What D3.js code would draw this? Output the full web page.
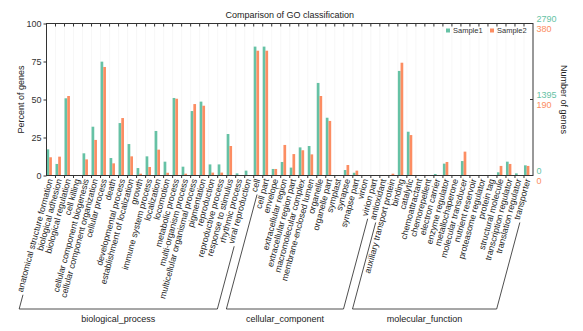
<!DOCTYPE html>
<html>
<head>
<meta charset="utf-8">
<script src="https://cdn.jsdelivr.net/npm/d3@7"></script>
<style>
  body { margin: 0; background: #fff; }
  svg { font-family: "Liberation Sans", Arial, sans-serif; }
</style>
</head>
<body>
<script>
const bpCats = ["anatomical structure formation", "biological adhesion", "biological regulation", "cell killing",
  "cellular component biogenesis", "cellular component organization", "cellular process", "death",
  "developmental process", "establishment of localization", "growth", "immune system process", "localization",
  "locomotion", "metabolic process", "multi-organism process", "multicellular organismal process", "pigmentation",
  "reproduction", "reproductive process", "response to stimulus", "rhythmic process", "viral reproduction"];
const ccCats = ["cell", "cell part", "envelope", "extracellular region", "extracellular region part",
  "macromolecular complex", "membrane-enclosed lumen", "organelle", "organelle part", "symplast", "synapse",
  "synapse part", "virion", "virion part"];
const mfCats = ["antioxidant", "auxiliary transport protein", "binding", "catalytic", "chemoattractant",
  "chemorepellent", "electron carrier", "enzyme regulator", "metallochaperone", "molecular transducer",
  "nutrient reservoir", "proteasome regulator", "protein tag", "structural molecule", "transcription regulator",
  "translation regulator", "transporter"];
const groupNames = ["biological_process", "cellular_component", "molecular_function"];

// percent of genes
const sample1 = [17.2, 7.6, 50.8, 0, 14.6, 32.1, 74.9, 11.5, 34.5, 20.7, 4.9, 12.6, 29.3, 9.1, 51.0, 5.8, 42.4, 48.6, 7.3, 7.3, 27.3, 1.4, 3.2,
  84.8, 84.8, 4.3, 8.9, 5.2, 18.5, 19.4, 60.9, 38.0, 0.3, 3.6, 1.8, 0, 0,
  0, 0.3, 68.8, 28.8, 0, 0, 1.0, 7.8, 0, 9.5, 0, 0, 0, 2.1, 9.1, 1.4, 6.7];
const sample2 = [12.0, 12.4, 52.3, 0, 10.6, 23.4, 71.4, 8.0, 37.8, 12.6, 1.2, 5.6, 17.0, 1.8, 50.5, 1.2, 47.0, 45.9, 1.9, 1.9, 19.4, 0, 0,
  82.1, 82.1, 4.3, 20.1, 14.1, 16.6, 13.9, 52.3, 35.9, 0, 6.9, 3.2, 0, 0,
  0, 1.2, 74.2, 26.6, 0, 0, 0, 8.9, 0, 15.7, 0, 0, 0, 6.3, 7.6, 0, 6.3];
const seriesNames = ["Sample1", "Sample2"];
const totals1 = [0, 1395, 2790];
const totals2 = [0, 190, 380];
const pctTicks = [0, 25, 50, 75, 100];

const colors = ["#66c2a5", "#fc8d62"];
const width = 583, height = 331;
const plotL = 46.5, plotR = 533, plotT = 23.5, plotB = 175.5;
const angle = 75;

const cats = bpCats.concat(ccCats, mfCats);
const groups = [bpCats, ccCats, mfCats];

const svg = d3.select('body').append('svg')
  .attr('width', width)
  .attr('height', height);

const x = d3.scaleBand().domain(cats).range([plotL, plotR]);
const xs = d3.scaleBand().domain(seriesNames).range([0, x.bandwidth() * 0.6]);
const y = d3.scaleLinear().domain([0, 100]).range([plotB, plotT]);
const yR1 = d3.scaleLinear().domain([0, 2790]).range([plotB, plotT]);
const yR2 = d3.scaleLinear().domain([0, 380]).range([plotB, plotT]);

// faint grid
svg.append('g')
  .selectAll('line')
  .data(cats.slice(1))
  .join('line')
  .attr('x1', d => x(d)).attr('x2', d => x(d))
  .attr('y1', plotT).attr('y2', plotB)
  .attr('stroke', '#f2f2f2')
  .attr('stroke-width', 0.6);

// bars
const rows = cats.map((c, i) => ({cat: c, vals: [sample1[i], sample2[i]]}));
svg.append('g')
  .selectAll('g')
  .data(rows)
  .join('g')
  .attr('transform', d => `translate(${x(d.cat)},0)`)
  .selectAll('rect')
  .data(d => d.vals.map((v, j) => ({key: seriesNames[j], v: v, j: j})))
  .join('rect')
  .attr('x', d => xs(d.key))
  .attr('width', xs.bandwidth())
  .attr('y', d => y(d.v))
  .attr('height', d => plotB - y(d.v))
  .attr('fill', d => colors[d.j]);

// frame
const axisColor = '#333';
svg.append('rect')
  .attr('x', plotL).attr('y', plotT)
  .attr('width', plotR - plotL).attr('height', plotB - plotT)
  .attr('fill', 'none')
  .attr('stroke', axisColor)
  .attr('stroke-width', 1);

// top / bottom ticks at band edges
const edges = cats.slice(1).map(c => x(c));
svg.append('g').selectAll('line').data(edges).join('line')
  .attr('x1', d => d).attr('x2', d => d)
  .attr('y1', plotT).attr('y2', plotT + 3)
  .attr('stroke', axisColor);
svg.append('g').selectAll('line').data(edges).join('line')
  .attr('x1', d => d).attr('x2', d => d)
  .attr('y1', plotB).attr('y2', plotB + 2.5)
  .attr('stroke', axisColor);

// left axis
const gl = svg.append('g')
  .attr('transform', `translate(${plotL},0)`)
  .call(d3.axisLeft(y).tickValues(pctTicks).tickSize(3).tickPadding(2))
  .style('font-size', '9px')
  .style('font-family', '"Liberation Sans", Arial, sans-serif');
gl.select('.domain').remove();
gl.selectAll('line').attr('stroke', axisColor);
gl.selectAll('text').attr('fill', '#333');

svg.append('text')
  .attr('transform', `translate(24,${(plotT + plotB) / 2}) rotate(-90)`)
  .attr('text-anchor', 'middle')
  .style('font-size', '9px')
  .attr('fill', '#222')
  .text('Percent of genes');

// right axis with two counts
const gr = svg.append('g')
  .attr('transform', `translate(${plotR},0)`);
gr.selectAll('line').data(totals1).join('line')
  .attr('x1', -3).attr('x2', 0)
  .attr('y1', d => yR1(d)).attr('y2', d => yR1(d))
  .attr('stroke', axisColor);
gr.selectAll('text.r1').data(totals1).join('text')
  .attr('class', 'r1')
  .attr('x', 3.5).attr('y', d => yR1(d) - 2)
  .attr('fill', colors[0])
  .style('font-size', '9px')
  .text(d => d);
gr.selectAll('text.r2').data(totals2).join('text')
  .attr('class', 'r2')
  .attr('x', 3.5).attr('y', d => yR2(d) + 8)
  .attr('fill', colors[1])
  .style('font-size', '9px')
  .text(d => d);

svg.append('text')
  .attr('transform', `translate(561,${(plotT + plotB) / 2}) rotate(90)`)
  .attr('text-anchor', 'middle')
  .style('font-size', '9px')
  .attr('fill', '#222')
  .text('Number of genes');

// title
svg.append('text')
  .attr('x', (plotL + plotR) / 2)
  .attr('y', 18)
  .attr('text-anchor', 'middle')
  .style('font-size', '9px')
  .attr('fill', '#222')
  .text('Comparison of GO classification');

// legend
const lg = svg.append('g').attr('transform', 'translate(446,28.5)');
seriesNames.forEach((s, i) => {
  const g = lg.append('g').attr('transform', `translate(${i * 44},0)`);
  g.append('rect').attr('width', 4).attr('height', 4).attr('fill', colors[i]);
  g.append('text').attr('x', 7).attr('y', 4.5)
    .style('font-size', '7.5px').attr('fill', '#333').text(s);
});

// x labels
const rad = angle * Math.PI / 180;
const dir = [-Math.cos(rad), Math.sin(rad)];
const labelY = 179;
const anchorX = c => x(c) + 3.5;
const labels = svg.append('g').selectAll('text')
  .data(cats)
  .join('text')
  .attr('transform', c => `translate(${anchorX(c)},${labelY}) rotate(${-angle})`)
  .attr('text-anchor', 'end')
  .attr('dy', '0.35em')
  .style('font-size', '8.7px')
  .attr('fill', '#222')
  .text(c => c);

const lens = {};
labels.each(function(c) { lens[c] = this.getComputedTextLength(); });

// group brackets
const baseY = 309;
const gap = 3, shift = 4;
function footOf(c) {
  const L = lens[c] + gap;
  const sx = anchorX(c) + dir[0] * L + shift;
  const sy = labelY + dir[1] * L;
  const t = (baseY - sy) / dir[1];
  return {sx: sx, sy: sy, bx: sx + dir[0] * t, by: baseY};
}
groups.forEach((g, i) => {
  const a = footOf(g[0]);
  const b = footOf(g[g.length - 1]);
  svg.append('path')
    .attr('d', `M${a.sx},${a.sy}L${a.bx},${a.by}L${b.bx},${b.by}L${b.sx},${b.sy}`)
    .attr('fill', 'none')
    .attr('stroke', '#222')
    .attr('stroke-width', 0.8);
  svg.append('text')
    .attr('x', (a.bx + b.bx) / 2)
    .attr('y', 322)
    .attr('text-anchor', 'middle')
    .style('font-size', '9px')
    .attr('fill', '#222')
    .text(groupNames[i]);
});
</script>
</body>
</html>
